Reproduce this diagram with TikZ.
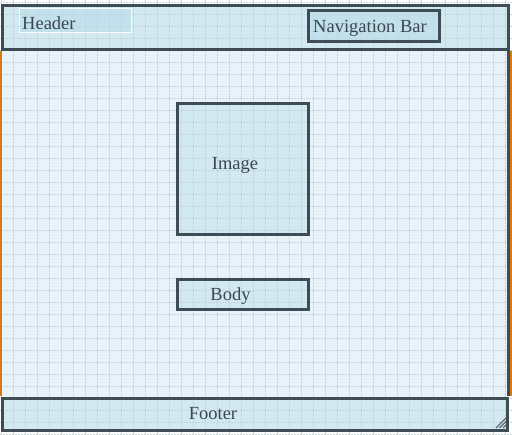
\documentclass[tikz,border=0pt]{standalone}
\usepackage{fontspec}
\setmainfont{Liberation Serif}
\definecolor{darkline}{HTML}{3E4D55}
\definecolor{txt}{HTML}{3A4750}
\definecolor{mainbg}{HTML}{E7F3F9}
\definecolor{boxbg}{HTML}{D3E9F1}
\definecolor{labelbg}{HTML}{C3E1EC}
\definecolor{gridc}{HTML}{C4D4DB}
\definecolor{orangeline}{HTML}{D97A0C}
\tikzset{
  panel/.style={draw=darkline, line width=3pt, fill=boxbg, inner sep=0pt},
  navbox/.style={draw=darkline, line width=3pt, fill=labelbg, inner sep=0pt},
  hlabel/.style={draw=white!85!boxbg, line width=1pt, fill=labelbg, inner sep=0pt},
  lbl/.style={text=txt, font=\fontsize{18.5}{20}\selectfont, inner sep=0pt},
  gridline/.style={draw=gridc, line width=0.7pt, dash pattern=on 1.6pt off 1.4pt},
  handle/.style={draw=darkline!85, line width=1.1pt},
}
\begin{document}
\begin{tikzpicture}[x=1pt,y=-1pt]
\useasboundingbox (0,0) rectangle (512,435);
\fill[white] (0,0) rectangle (512,435);
% main area
\fill[mainbg] (2,51) rectangle (508,397);
% fills
\node[panel, draw=none, minimum width=505.5pt, minimum height=44pt] (headerfill) at (255.25,27.5) {};
\node[hlabel, minimum width=112pt, minimum height=24pt] (headerlabel) at (75,20.5) {};
\node[navbox, draw=none, minimum width=131pt, minimum height=30.5pt] (navfill) at (373.8,26) {};
\node[panel, draw=none, minimum width=131pt, minimum height=131pt] (imagefill) at (242.5,169.5) {};
\node[panel, draw=none, minimum width=131pt, minimum height=29.5pt] (bodyfill) at (242.5,294.3) {};
\node[panel, draw=none, minimum width=505.5pt, minimum height=32pt] (footerfill) at (254.75,414.5) {};
% grid
\foreach \i in {0,...,42} \draw[gridline] ({1+12*\i},0) -- ({1+12*\i},435);
\foreach \j in {0,...,36} \draw[gridline] (0,{2+12*\j}) -- (512,{2+12*\j});
% strokes
\node[panel, fill=none, minimum width=505.5pt, minimum height=44pt] (header) at (255.25,27.5) {};
\node[navbox, fill=none, minimum width=131pt, minimum height=30.5pt] (nav) at (373.8,26) {};
\node[panel, fill=none, minimum width=131pt, minimum height=131pt] (image) at (242.5,169.5) {};
\node[panel, fill=none, minimum width=131pt, minimum height=29.5pt] (body) at (242.5,294.3) {};
\node[panel, fill=none, minimum width=505.5pt, minimum height=32pt] (footer) at (254.75,414.5) {};
% side lines
\coordinate (lt) at (1,51);
\coordinate (lb) at (1,396);
\coordinate (rt) at (508.2,51);
\coordinate (rb) at (508.2,396);
\coordinate (ot) at (511,51);
\coordinate (ob) at (511,396);
\draw[orangeline, line width=2pt] (lt) -- (lb);
\draw[darkline, line width=2.6pt] (rt) -- (rb);
\draw[orangeline, line width=1.6pt] (ot) -- (ob);
% texts
\node[lbl, anchor=west] (headertext) at (22,23) {Header};
\node[lbl] (navtext) at (370,28) {Navigation Bar};
\node[lbl] (imagetext) at (235,165) {Image};
\node[lbl] (bodytext) at (230.5,296) {Body};
\node[lbl] (footertext) at (213,414) {Footer};
% resize handle
\draw[handle] (506,418) -- (496,428);
\draw[handle] (506,421.5) -- (499.5,428);
\draw[handle] (506,425) -- (503,428);
\end{tikzpicture}
\end{document}
